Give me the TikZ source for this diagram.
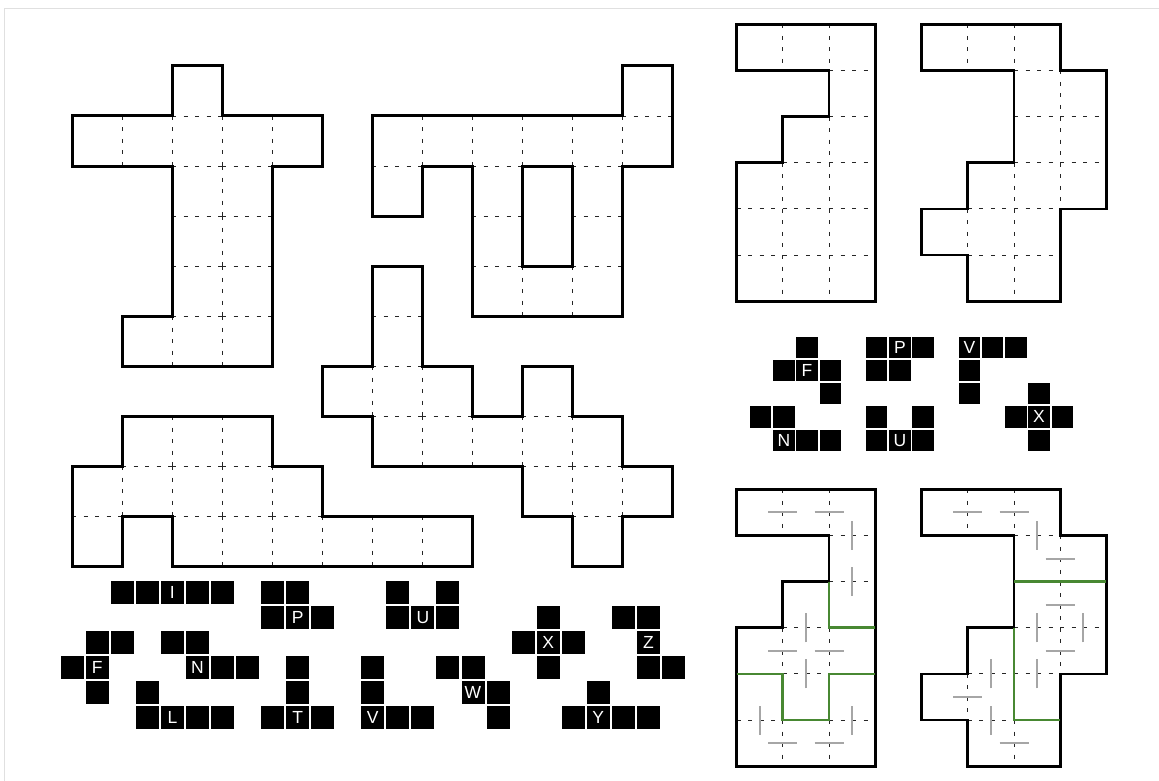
\documentclass[tikz,border=0pt]{standalone}
\usepackage{fontspec}
\newfontfamily\lab{Liberation Sans}
\definecolor{cutgreen}{RGB}{72,136,50}
\newcommand\innergrid[1]{\foreach \c/\r in {#1}{\draw[inner] (\c,\r) -- ++(1,0); \draw[inner] (\c,\r) -- ++(0,1);}}
\newcommand\hmk[2]{\draw[marker] (#1,#2) ++(-14.5pt,0pt) -- ++(29pt,0pt);}
\newcommand\vmk[2]{\draw[marker] (#1,#2) ++(0pt,-14.5pt) -- ++(0pt,29pt);}
\newcommand\pent[5]{% name, cells, label col, label row, letter
  \foreach \c/\r in {#2}{\fill[black] (\c,\r) rectangle ++(0.918,0.918);}
  \node[lbl] (#1) at (#3+0.459,#4+0.459) {#5};}
\begin{document}
\begin{tikzpicture}[x=1pt,y=-1pt,
  inner/.style={line width=0.9pt,black!85,dash pattern=on 4pt off 7.5pt},
  outline/.style={line width=3pt,line join=miter},
  outlineb/.style={line width=2.8pt,line join=miter},
  marker/.style={line width=2pt,black!35},
  cut/.style={line width=2.8pt,cutgreen},
  lbl/.style={text=white,inner sep=0pt,font=\lab\fontsize{17.5}{17.5}\selectfont}]
\useasboundingbox (0,0) rectangle (1159,781);
\draw[black!12,line width=1pt] (4.5,781) -- (4.5,8.5) -- (1159,8.5);

% ---- left large shapes ----
\begin{scope}[shift={(72,66)},x=50pt,y=-50pt]
\innergrid{2/0,0/1,1/1,2/1,3/1,4/1,2/2,3/2,2/3,3/3,2/4,3/4,1/5,2/5,3/5}
\draw[outline] (2,0)--(3,0)--(3,1)--(5,1)--(5,2)--(4,2)--(4,6)--(1,6)--(1,5)--(2,5)--(2,2)--(0,2)--(0,1)--(2,1)--cycle;
\innergrid{11/0,6/1,7/1,8/1,9/1,10/1,11/1,6/2,8/2,10/2,8/3,10/3,8/4,9/4,10/4}
\draw[outline] (11,0)--(12,0)--(12,2)--(11,2)--(11,5)--(8,5)--(8,2)--(7,2)--(7,3)--(6,3)--(6,1)--(11,1)--cycle (9,2) rectangle (10,4);
\innergrid{6/4,6/5,5/6,6/6,7/6,9/6,6/7,7/7,8/7,9/7,10/7,9/8,10/8,11/8,10/9}
\draw[outline] (6,4)--(7,4)--(7,6)--(8,6)--(8,7)--(9,7)--(9,6)--(10,6)--(10,7)--(11,7)--(11,8)--(12,8)--(12,9)--(11,9)--(11,10)--(10,10)--(10,9)--(9,9)--(9,8)--(6,8)--(6,7)--(5,7)--(5,6)--(6,6)--cycle;
\innergrid{1/7,2/7,3/7,0/8,1/8,2/8,3/8,4/8,0/9,2/9,3/9,4/9,5/9,6/9,7/9}
\draw[outline] (1,7)--(4,7)--(4,8)--(5,8)--(5,9)--(8,9)--(8,10)--(2,10)--(2,9)--(1,9)--(1,10)--(0,10)--(0,8)--(1,8)--cycle;
\end{scope}

% ---- right top shapes ----
\begin{scope}[shift={(736.7,24.3)},x=46.15pt,y=-46.15pt]
\innergrid{0/0,1/0,2/0,2/1,1/2,2/2,0/3,1/3,2/3,0/4,1/4,2/4,0/5,1/5,2/5}
\draw[outlineb] (0,0)--(3,0)--(3,6)--(0,6)--(0,3)--(1,3)--(1,2)--(2,2)--(2,1)--(0,1)--cycle;
\end{scope}
\begin{scope}[shift={(921.7,24.3)},x=46.15pt,y=-46.15pt]
\innergrid{0/0,1/0,2/0,2/1,3/1,2/2,3/2,1/3,2/3,3/3,0/4,1/4,2/4,1/5,2/5}
\draw[outlineb] (0,0)--(3,0)--(3,1)--(4,1)--(4,4)--(3,4)--(3,6)--(1,6)--(1,5)--(0,5)--(0,4)--(1,4)--(1,3)--(2,3)--(2,1)--(0,1)--cycle;
\end{scope}

% ---- right bottom shapes with cuts ----
\begin{scope}[shift={(736.7,489.3)},x=46.15pt,y=-46.15pt]
\innergrid{0/0,1/0,2/0,2/1,1/2,2/2,0/3,1/3,2/3,0/4,1/4,2/4,0/5,1/5,2/5}
\hmk{1}{0.5}\hmk{2}{0.5}\hmk{1}{3.5}\hmk{2}{3.5}\hmk{1}{5.5}\hmk{2}{5.5}
\vmk{2.5}{1}\vmk{2.5}{2}\vmk{1.5}{3}\vmk{1.5}{4}\vmk{0.5}{5}\vmk{2.5}{5}
\draw[outlineb] (0,0)--(3,0)--(3,6)--(0,6)--(0,3)--(1,3)--(1,2)--(2,2)--(2,1)--(0,1)--cycle;
\draw[cut] (2,2)--(2,3)--(3,3);
\draw[cut] (0,4)--(1,4)--(1,5)--(2,5)--(2,4)--(3,4);
\end{scope}
\begin{scope}[shift={(921.7,489.3)},x=46.15pt,y=-46.15pt]
\innergrid{0/0,1/0,2/0,2/1,3/1,2/2,3/2,1/3,2/3,3/3,0/4,1/4,2/4,1/5,2/5}
\hmk{1}{0.5}\hmk{2}{0.5}\hmk{3}{1.5}\hmk{3}{2.5}\hmk{3}{3.5}\hmk{1}{4.5}\hmk{2}{5.5}
\vmk{2.5}{1}\vmk{2.5}{3}\vmk{3.5}{3}\vmk{1.5}{4}\vmk{2.5}{4}\vmk{1.5}{5}
\draw[outlineb] (0,0)--(3,0)--(3,1)--(4,1)--(4,4)--(3,4)--(3,6)--(1,6)--(1,5)--(0,5)--(0,4)--(1,4)--(1,3)--(2,3)--(2,1)--(0,1)--cycle;
\draw[cut] (2,2)--(4,2);
\draw[cut] (2,3)--(2,5)--(3,5);
\end{scope}

% ---- pentominoes, left ----
\begin{scope}[shift={(60.7,581)},x=25.05pt,y=-25.05pt]
\pent{pI}{2/0,3/0,4/0,5/0,6/0}{4}{0}{I}
\pent{pP}{8/0,9/0,8/1,9/1,10/1}{9}{1}{P}
\pent{pF}{1/2,2/2,0/3,1/3,1/4}{1}{3}{F}
\pent{pN}{4/2,5/2,5/3,6/3,7/3}{5}{3}{N}
\pent{pL}{3/4,3/5,4/5,5/5,6/5}{4}{5}{L}
\pent{pT}{9/3,9/4,8/5,9/5,10/5}{9}{5}{T}
\pent{pU}{13/0,15/0,13/1,14/1,15/1}{14}{1}{U}
\pent{pV}{12/3,12/4,12/5,13/5,14/5}{12}{5}{V}
\pent{pW}{15/3,16/3,16/4,17/4,17/5}{16}{4}{W}
\pent{pX}{19/1,18/2,19/2,20/2,19/3}{19}{2}{X}
\pent{pZ}{22/1,23/1,23/2,23/3,24/3}{23}{2}{Z}
\pent{pY}{21/4,20/5,21/5,22/5,23/5}{21}{5}{Y}
\end{scope}

% ---- pentominoes, right ----
\begin{scope}[shift={(750,336.7)},x=23.2pt,y=-23.2pt]
\pent{qF}{2/0,1/1,2/1,3/1,3/2}{2}{1}{F}
\pent{qN}{0/3,1/3,1/4,2/4,3/4}{1}{4}{N}
\pent{qP}{5/0,6/0,7/0,5/1,6/1}{6}{0}{P}
\pent{qU}{5/3,7/3,5/4,6/4,7/4}{6}{4}{U}
\pent{qV}{9/0,10/0,11/0,9/1,9/2}{9}{0}{V}
\pent{qX}{12/2,11/3,12/3,13/3,12/4}{12}{3}{X}
\end{scope}
\end{tikzpicture}
\end{document}
